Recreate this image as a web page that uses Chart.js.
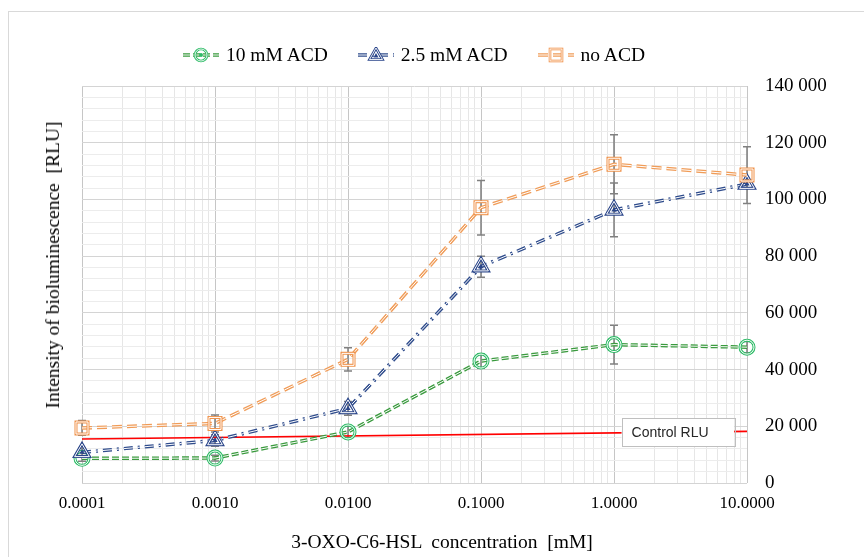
<!DOCTYPE html>
<html><head><meta charset="utf-8">
<script src="https://cdn.jsdelivr.net/npm/chart.js@4/dist/chart.umd.min.js"></script>
<style>
html,body{margin:0;padding:0;background:#fff;}
#wrap{position:relative;width:864px;height:557px;overflow:hidden;font-family:"Liberation Serif","Times New Roman",serif;color:#000;}
#frame{position:absolute;left:8px;top:11px;width:880px;height:580px;border:1px solid #d9d9d9;box-sizing:border-box;}
canvas{position:absolute;left:0;top:0;}
#legend{position:absolute;top:43px;left:0;width:828px;display:flex;justify-content:center;gap:30px;font-size:19.5px;line-height:24px;}
.item{display:flex;align-items:center;gap:7px;white-space:pre;}
#ytitle{position:absolute;left:53px;top:265px;transform:translate(-50%,-50%) rotate(-90deg);white-space:pre;font-size:19.5px;}
#xtitle{position:absolute;left:442px;top:542px;transform:translate(-50%,-50%);white-space:pre;font-size:19.5px;}
</style></head><body>
<div id="wrap"><div id="frame"></div><canvas id="c" width="864" height="557"></canvas>
<div id="legend"></div><div id="ytitle"></div><div id="xtitle"></div></div>
<script>
// ---- data ----
const xValues = [0.0001, 0.001, 0.01, 0.1, 1, 10];
const xTickLabels = ['0.0001', '0.0010', '0.0100', '0.1000', '1.0000', '10.0000'];
const yTickLabels = ['0', '20 000', '40 000', '60 000', '80 000', '100 000', '120 000', '140 000'];
const seriesNames = ['10 mM ACD', '2.5 mM ACD', 'no ACD'];
const acd10    = [8700, 8800, 18000, 43000, 48800, 47900];
const acd10Err = [1000, 1000, 2000, 2500, 6800, 2000];
const acd25    = [10800, 15000, 26300, 76300, 96300, 105400];
const acd25Err = [1500, 2000, 2400, 3700, 9500, 1500];
const noAcd    = [19400, 21000, 43600, 97100, 112400, 108600];
const noAcdErr = [2600, 3000, 4100, 9600, 10400, 10000];
const controlX = [0.0001, 10];
const controlY = [15500, 18200];
const controlLabel = 'Control RLU';
const xTitle = '3-OXO-C6-HSL  concentration  [mM]';
const yTitle = 'Intensity of bioluminescence  [RLU]';

const seriesValues = [acd10, acd25, noAcd];
const seriesErrors = [acd10Err, acd25Err, noAcdErr];

// ---- styles ----
const styles = [
  {line: '#3a9a3e', mark: '#2dbb66', dash: [7, 3], shape: 'circle', r: 7, base: 20},
  {line: '#2f4c8c', mark: '#2b468a', dash: [9, 5, 2, 5], shape: 'triangle', r: 8.5, base: 10, center: true},
  {line: '#f09c58', mark: '#f0924a', dash: [10, 5], shape: 'rect', r: 8.5, base: 0}
];
const ctrlBox = {from: 1.14, to: 8.0, h: 28};

const yMajor = 20000, yMinor = 4000, yMax = 140000;
// axis tick positions (decades and 2..9 minors)
const xTickValues = [];
xValues.forEach((d, i) => {
  xTickValues.push({value: d, major: true});
  if (i < xValues.length - 1) for (let k = 2; k <= 9; k++) xTickValues.push({value: d * k, major: false});
});

function pts(vals) { return vals.map((v, i) => ({x: xValues[i], y: v})); }

const datasets = [];
datasets.push({data: controlX.map((x, i) => ({x: x, y: controlY[i]})), borderColor: '#ff0000', borderWidth: 1.6, pointRadius: 0, order: 100});
seriesValues.forEach((vals, si) => {
  const st = styles[si];
  datasets.push({label: seriesNames[si], data: pts(vals), borderColor: st.line, borderWidth: 3.5, borderDash: st.dash, pointRadius: 0, order: st.base + 5, clip: false});
  datasets.push({data: pts(vals), borderColor: '#ffffff', borderWidth: 1.0, borderDash: st.dash, pointRadius: 0, order: st.base + 4, clip: false});
  datasets.push({data: pts(vals), showLine: false, pointStyle: st.shape, pointRadius: st.r, pointBorderColor: st.mark, pointBorderWidth: 3, pointBackgroundColor: 'rgba(255,255,255,0)', order: st.base + 3, clip: false});
  datasets.push({data: pts(vals), showLine: false, pointStyle: st.shape, pointRadius: st.r, pointBorderColor: '#ffffff', pointBorderWidth: 1, pointBackgroundColor: 'rgba(255,255,255,0)', order: st.base + 2, clip: false});
  if (st.center) datasets.push({data: pts(vals), showLine: false, pointStyle: st.shape, pointRadius: 3, pointBorderWidth: 0, pointBackgroundColor: st.mark, order: st.base + 1, clip: false});
});

const errorBars = {
  id: 'errorBars',
  beforeDatasetsDraw(chart) {
    const xs = chart.scales.x, ys = chart.scales.y, ctx = chart.ctx;
    ctx.save();
    ctx.strokeStyle = '#808080'; ctx.lineWidth = 1.5;
    seriesValues.forEach((vals, si) => {
      vals.forEach((v, i) => {
        const e = seriesErrors[si][i];
        const x = xs.getPixelForValue(xValues[i]);
        const t = ys.getPixelForValue(v + e), b = ys.getPixelForValue(v - e);
        ctx.beginPath();
        ctx.moveTo(x, t); ctx.lineTo(x, b);
        ctx.moveTo(x - 4, t); ctx.lineTo(x + 4, t);
        ctx.moveTo(x - 4, b); ctx.lineTo(x + 4, b);
        ctx.stroke();
      });
    });
    ctx.restore();
  }
};

const ctrlLabelPlugin = {
  id: 'ctrlLabel',
  afterDatasetsDraw(chart) {
    const xs = chart.scales.x, ys = chart.scales.y, ctx = chart.ctx;
    const x0 = xs.getPixelForValue(ctrlBox.from), x1 = xs.getPixelForValue(ctrlBox.to);
    const ax = xs.getPixelForValue(controlX[0]), ay = ys.getPixelForValue(controlY[0]);
    const bx = xs.getPixelForValue(controlX[1]), by = ys.getPixelForValue(controlY[1]);
    const cx = (x0 + x1) / 2;
    const cy = ay + (by - ay) * (cx - ax) / (bx - ax);
    ctx.save();
    ctx.fillStyle = '#ffffff';
    ctx.fillRect(x0, cy - ctrlBox.h / 2, x1 - x0, ctrlBox.h);
    ctx.strokeStyle = '#bfbfbf'; ctx.lineWidth = 1;
    ctx.strokeRect(Math.round(x0) + 0.5, Math.round(cy - ctrlBox.h / 2) + 0.5, Math.round(x1 - x0), ctrlBox.h);
    ctx.fillStyle = '#262626';
    ctx.font = '14px "Liberation Sans", Arial, sans-serif';
    ctx.textBaseline = 'middle'; ctx.textAlign = 'left';
    ctx.fillText(controlLabel, x0 + 10, cy + 1);
    ctx.restore();
  }
};

new Chart(document.getElementById('c'), {
  type: 'line',
  data: {datasets: datasets},
  plugins: [errorBars, ctrlLabelPlugin],
  options: {
    responsive: false, animation: false,
    layout: {padding: {left: 82, top: 86, right: 0, bottom: 0}},
    plugins: {legend: {display: false}, tooltip: {enabled: false}},
    elements: {line: {tension: 0}},
    scales: {
      x: {
        type: 'logarithmic', min: xValues[0], max: xValues[xValues.length - 1],
        afterBuildTicks: s => { s.ticks = xTickValues.map(t => ({value: t.value, major: t.major})); },
        afterFit: s => { s.height = 74; },
        border: {display: false},
        grid: {drawTicks: false, color: c => (c.tick && c.tick.major) ? '#c6c6c6' : '#e6e6e6'},
        ticks: {
          autoSkip: false, maxRotation: 0, padding: 10, color: '#000',
          font: {family: '"Liberation Serif","Times New Roman",serif', size: 17},
          callback: (v) => { const i = xValues.indexOf(v); return i >= 0 ? xTickLabels[i] : ''; }
        }
      },
      y: {
        type: 'linear', position: 'right', min: 0, max: yMax,
        afterFit: s => { s.width = 117; },
        border: {display: false},
        grid: {drawTicks: false, color: c => (c.tick && c.tick.value % yMajor === 0) ? '#d4d4d4' : '#ececec'},
        ticks: {
          stepSize: yMinor, autoSkip: false, padding: 18, color: '#000',
          font: {family: '"Liberation Serif","Times New Roman",serif', size: 19},
          callback: (v) => v % yMajor === 0 ? yTickLabels[v / yMajor] : ''
        }
      }
    }
  }
});

// ---- HTML legend & titles ----
function svgIcon(st) {
  const dash = st.dash.join(',');
  let m = '';
  const cx = 18, cy = 8;
  if (st.shape === 'circle') {
    m = `<circle cx="${cx}" cy="${cy}" r="6" fill="none" stroke="${st.mark}" stroke-width="2.6"/><circle cx="${cx}" cy="${cy}" r="6" fill="none" stroke="#fff" stroke-width="0.9"/><circle cx="${cx}" cy="${cy}" r="2" fill="${st.mark}"/>`;
  } else if (st.shape === 'triangle') {
    const p = `${cx},${cy - 7} ${cx + 6.5},${cy + 4.5} ${cx - 6.5},${cy + 4.5}`;
    const p2 = `${cx},${cy - 2} ${cx + 2.5},${cy + 2.5} ${cx - 2.5},${cy + 2.5}`;
    m = `<polygon points="${p}" fill="none" stroke="${st.mark}" stroke-width="2.6"/><polygon points="${p}" fill="none" stroke="#fff" stroke-width="0.9"/><polygon points="${p2}" fill="${st.mark}"/>`;
  } else {
    m = `<rect x="${cx - 6}" y="${cy - 6}" width="12" height="12" fill="none" stroke="${st.mark}" stroke-width="2.6"/><rect x="${cx - 6}" y="${cy - 6}" width="12" height="12" fill="none" stroke="#fff" stroke-width="0.9"/>`;
  }
  return `<svg width="36" height="16" viewBox="0 0 36 16"><line x1="0" y1="8" x2="36" y2="8" stroke="${st.line}" stroke-width="3.4" stroke-dasharray="${dash}"/><line x1="0" y1="8" x2="36" y2="8" stroke="#fff" stroke-width="1" stroke-dasharray="${dash}"/>${m}</svg>`;
}
const lg = document.getElementById('legend');
seriesNames.forEach((n, i) => {
  const d = document.createElement('div');
  d.className = 'item';
  d.innerHTML = svgIcon(styles[i]) + '<span></span>';
  d.querySelector('span').textContent = n;
  lg.appendChild(d);
});
document.getElementById('ytitle').textContent = yTitle;
document.getElementById('xtitle').textContent = xTitle;
</script>
</body></html>
